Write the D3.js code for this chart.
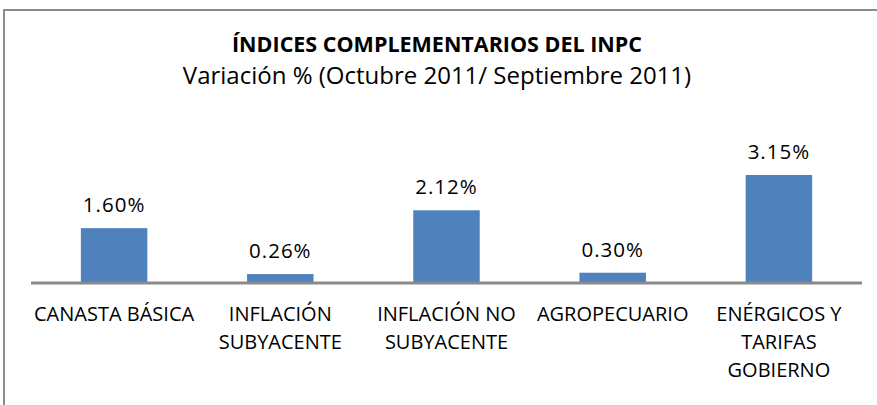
<!DOCTYPE html>
<html>
<head>
<meta charset="utf-8">
<script src="https://cdn.jsdelivr.net/npm/d3@7"></script>
<style>
  html, body { margin: 0; padding: 0; background: #fff; }
  svg text { font-family: "Open Sans", sans-serif; fill: #000; }
</style>
</head>
<body>
<div id="chart"></div>
<script>
'use strict';

// data
const title = 'ÍNDICES COMPLEMENTARIOS DEL INPC';
const subtitle = 'Variación % (Octubre 2011/ Septiembre 2011)';
const categories = [
  ['CANASTA BÁSICA'],
  ['INFLACIÓN', 'SUBYACENTE'],
  ['INFLACIÓN NO', 'SUBYACENTE'],
  ['AGROPECUARIO'],
  ['ENÉRGICOS Y', 'TARIFAS', 'GOBIERNO']
];
const values = [1.60, 0.26, 2.12, 0.30, 3.15];

const width = 877, height = 405;
const margin = { top: 163, right: 15, bottom: 122, left: 31 };

const svg = d3.select('#chart').append('svg')
  .attr('width', width)
  .attr('height', height);

// chart frame (only top and left edges show in the crop)
svg.append('path')
  .attr('d', 'M4,' + height + ' L4,10 L' + width + ',10')
  .attr('fill', 'none')
  .attr('stroke', '#8c8c8c')
  .attr('stroke-width', 2);

svg.append('text')
  .attr('x', 437)
  .attr('y', 52)
  .attr('text-anchor', 'middle')
  .style('font-size', '21.5px')
  .style('font-weight', 'bold')
  .text(title);

svg.append('text')
  .attr('x', 437)
  .attr('y', 84)
  .attr('text-anchor', 'middle')
  .style('font-size', '24px')
  .text(subtitle);

let x = d3.scaleBand()
  .domain(d3.range(values.length))
  .range([margin.left, width - margin.right])
  .paddingInner(0.6)
  .paddingOuter(0.3);

let y = d3.scaleLinear()
  .domain([0, 3.5])
  .range([height - margin.bottom, margin.top]);

svg.selectAll('rect.bar')
  .data(values)
  .enter().append('rect')
  .attr('class', 'bar')
  .attr('x', function(d, i){ return x(i); })
  .attr('y', function(d){ return y(d); })
  .attr('width', x.bandwidth())
  .attr('height', function(d){ return y(0) - y(d); })
  .attr('fill', '#4f81bd');

// baseline
svg.append('line')
  .attr('x1', margin.left)
  .attr('x2', width - margin.right)
  .attr('y1', y(0))
  .attr('y2', y(0))
  .attr('stroke', '#898989')
  .attr('stroke-width', 3);

svg.selectAll('text.value')
  .data(values)
  .enter().append('text')
  .attr('class', 'value')
  .attr('x', function(d, i){ return x(i) + x.bandwidth() / 2; })
  .attr('y', function(d){ return y(d) - 16; })
  .attr('text-anchor', 'middle')
  .style('font-size', '20.5px')
  .style('letter-spacing', '1px')
  .text(function(d){ return d.toFixed(2) + '%'; });

let labels = svg.selectAll('text.cat')
  .data(categories)
  .enter().append('text')
  .attr('class', 'cat')
  .attr('text-anchor', 'middle')
  .style('font-size', '20px');

labels.selectAll('tspan')
  .data(function(d, i){
    return d.map(function(line){ return { line: line, i: i }; });
  })
  .enter().append('tspan')
  .attr('x', function(d){ return x(d.i) + x.bandwidth() / 2; })
  .attr('y', function(d, j){ return y(0) + 38 + j * 28; })
  .text(function(d){ return d.line; });
</script>
</body>
</html>
